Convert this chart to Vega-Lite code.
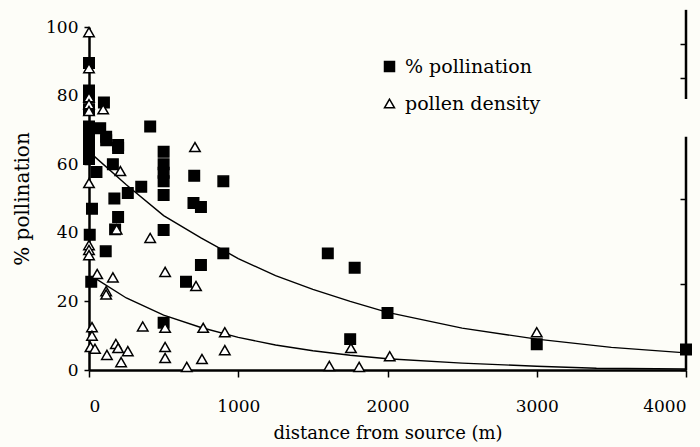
{
  "$schema": "https://vega.github.io/schema/vega-lite/v6.json",
  "width": 597,
  "height": 343,
  "autosize": {"type": "none"},
  "padding": {"left": 89, "top": 27, "right": 14, "bottom": 77},
  "background": "#fdfdf8",
  "config": {
    "view": {"stroke": null},
    "font": "DejaVu Serif",
    "axis": {
      "grid": false,
      "domainColor": "#000000",
      "domainWidth": 2.5,
      "tickColor": "#000000",
      "tickWidth": 1.5,
      "labelColor": "#000000",
      "titleColor": "#000000",
      "labelFont": "DejaVu Serif",
      "titleFont": "DejaVu Serif",
      "labelFontSize": 17,
      "titleFontSize": 18,
      "titleFontWeight": "normal"
    },
    "legend": {
      "labelFont": "DejaVu Serif"
    }
  },
  "datasets": {
    "points": [
      {"distance": 0, "value": 89.5, "series": "% pollination"},
      {"distance": 0, "value": 81.5, "series": "% pollination"},
      {"distance": 0, "value": 79.5, "series": "% pollination"},
      {"distance": 0, "value": 76, "series": "% pollination"},
      {"distance": 0, "value": 71, "series": "% pollination"},
      {"distance": 0, "value": 68, "series": "% pollination"},
      {"distance": 0, "value": 65.5, "series": "% pollination"},
      {"distance": 0, "value": 63, "series": "% pollination"},
      {"distance": 0, "value": 61.5, "series": "% pollination"},
      {"distance": 100, "value": 78, "series": "% pollination"},
      {"distance": 75, "value": 70.5, "series": "% pollination"},
      {"distance": 115, "value": 68, "series": "% pollination"},
      {"distance": 115, "value": 67, "series": "% pollination"},
      {"distance": 195, "value": 65.6, "series": "% pollination"},
      {"distance": 195, "value": 64.7, "series": "% pollination"},
      {"distance": 160, "value": 60, "series": "% pollination"},
      {"distance": 50, "value": 57.7, "series": "% pollination"},
      {"distance": 260, "value": 51.6, "series": "% pollination"},
      {"distance": 350, "value": 53.4, "series": "% pollination"},
      {"distance": 170, "value": 50, "series": "% pollination"},
      {"distance": 20, "value": 47, "series": "% pollination"},
      {"distance": 195, "value": 44.6, "series": "% pollination"},
      {"distance": 175, "value": 41, "series": "% pollination"},
      {"distance": 5, "value": 39.4, "series": "% pollination"},
      {"distance": 112, "value": 34.6, "series": "% pollination"},
      {"distance": 15, "value": 25.7, "series": "% pollination"},
      {"distance": 410, "value": 71, "series": "% pollination"},
      {"distance": 500, "value": 63.6, "series": "% pollination"},
      {"distance": 500, "value": 60, "series": "% pollination"},
      {"distance": 500, "value": 57.5, "series": "% pollination"},
      {"distance": 500, "value": 55, "series": "% pollination"},
      {"distance": 500, "value": 51, "series": "% pollination"},
      {"distance": 500, "value": 40.8, "series": "% pollination"},
      {"distance": 500, "value": 13.8, "series": "% pollination"},
      {"distance": 705, "value": 56.6, "series": "% pollination"},
      {"distance": 700, "value": 48.7, "series": "% pollination"},
      {"distance": 750, "value": 47.5, "series": "% pollination"},
      {"distance": 900, "value": 55, "series": "% pollination"},
      {"distance": 900, "value": 34, "series": "% pollination"},
      {"distance": 750, "value": 30.6, "series": "% pollination"},
      {"distance": 650, "value": 25.7, "series": "% pollination"},
      {"distance": 1600, "value": 34, "series": "% pollination"},
      {"distance": 1780, "value": 29.8, "series": "% pollination"},
      {"distance": 2000, "value": 16.6, "series": "% pollination"},
      {"distance": 1750, "value": 9, "series": "% pollination"},
      {"distance": 3000, "value": 7.5, "series": "% pollination"},
      {"distance": 4000, "value": 6, "series": "% pollination"},
      {"distance": 0, "value": 98.5, "series": "pollen density"},
      {"distance": 0, "value": 88, "series": "pollen density"},
      {"distance": 0, "value": 79.5, "series": "pollen density"},
      {"distance": 0, "value": 77.5, "series": "pollen density"},
      {"distance": 0, "value": 75.5, "series": "pollen density"},
      {"distance": 95, "value": 76, "series": "pollen density"},
      {"distance": 210, "value": 58, "series": "pollen density"},
      {"distance": 0, "value": 54.5, "series": "pollen density"},
      {"distance": 185, "value": 41, "series": "pollen density"},
      {"distance": 0, "value": 36.4, "series": "pollen density"},
      {"distance": 0, "value": 35, "series": "pollen density"},
      {"distance": 0, "value": 33.5, "series": "pollen density"},
      {"distance": 410, "value": 38.5, "series": "pollen density"},
      {"distance": 55, "value": 28, "series": "pollen density"},
      {"distance": 160, "value": 27, "series": "pollen density"},
      {"distance": 115, "value": 23, "series": "pollen density"},
      {"distance": 115, "value": 22, "series": "pollen density"},
      {"distance": 510, "value": 28.6, "series": "pollen density"},
      {"distance": 717, "value": 24.5, "series": "pollen density"},
      {"distance": 710, "value": 65, "series": "pollen density"},
      {"distance": 360, "value": 12.7, "series": "pollen density"},
      {"distance": 510, "value": 12.3, "series": "pollen density"},
      {"distance": 765, "value": 12.3, "series": "pollen density"},
      {"distance": 910, "value": 11, "series": "pollen density"},
      {"distance": 20, "value": 12.5, "series": "pollen density"},
      {"distance": 20, "value": 10, "series": "pollen density"},
      {"distance": 10, "value": 6.7, "series": "pollen density"},
      {"distance": 40, "value": 6.2, "series": "pollen density"},
      {"distance": 120, "value": 4.4, "series": "pollen density"},
      {"distance": 180, "value": 7.6, "series": "pollen density"},
      {"distance": 195, "value": 6.4, "series": "pollen density"},
      {"distance": 260, "value": 5.5, "series": "pollen density"},
      {"distance": 215, "value": 2.3, "series": "pollen density"},
      {"distance": 510, "value": 6.7, "series": "pollen density"},
      {"distance": 510, "value": 3.5, "series": "pollen density"},
      {"distance": 910, "value": 5.8, "series": "pollen density"},
      {"distance": 757, "value": 3.2, "series": "pollen density"},
      {"distance": 655, "value": 0.9, "series": "pollen density"},
      {"distance": 1755, "value": 6.4, "series": "pollen density"},
      {"distance": 2015, "value": 4, "series": "pollen density"},
      {"distance": 1610, "value": 1.2, "series": "pollen density"},
      {"distance": 1810, "value": 0.9, "series": "pollen density"},
      {"distance": 3000, "value": 11, "series": "pollen density"}
    ],
    "curves": [
      {"distance": 30, "value": 62.5, "curve": "pollination"},
      {"distance": 250, "value": 54, "curve": "pollination"},
      {"distance": 500, "value": 45, "curve": "pollination"},
      {"distance": 750, "value": 38.5, "curve": "pollination"},
      {"distance": 1000, "value": 32.5, "curve": "pollination"},
      {"distance": 1250, "value": 27.5, "curve": "pollination"},
      {"distance": 1500, "value": 23.5, "curve": "pollination"},
      {"distance": 1750, "value": 20, "curve": "pollination"},
      {"distance": 2000, "value": 16.8, "curve": "pollination"},
      {"distance": 2500, "value": 12.2, "curve": "pollination"},
      {"distance": 3000, "value": 9, "curve": "pollination"},
      {"distance": 3500, "value": 6.6, "curve": "pollination"},
      {"distance": 4000, "value": 5, "curve": "pollination"},
      {"distance": 50, "value": 26.5, "curve": "density"},
      {"distance": 250, "value": 21, "curve": "density"},
      {"distance": 500, "value": 16, "curve": "density"},
      {"distance": 750, "value": 12.4, "curve": "density"},
      {"distance": 1000, "value": 9.5, "curve": "density"},
      {"distance": 1250, "value": 7.3, "curve": "density"},
      {"distance": 1500, "value": 5.6, "curve": "density"},
      {"distance": 1750, "value": 4.3, "curve": "density"},
      {"distance": 2000, "value": 3.3, "curve": "density"},
      {"distance": 2500, "value": 2, "curve": "density"},
      {"distance": 3000, "value": 1.1, "curve": "density"},
      {"distance": 3400, "value": 0.5, "curve": "density"},
      {"distance": 4000, "value": 0.3, "curve": "density"}
    ],
    "rightaxis": [
      {"distance": 4000, "value": 0, "value2": 68},
      {"distance": 4000, "value": 79, "value2": 105}
    ]
  },
  "encoding": {
    "x": {
      "field": "distance",
      "type": "quantitative",
      "scale": {"domain": [0, 4000], "nice": false, "zero": false},
      "axis": {
        "values": [0, 1000, 2000, 3000, 4000],
        "format": "d",
        "title": "distance from source (m)",
        "tickSize": 7,
        "labelPadding": 21,
        "titlePadding": 10
      }
    },
    "y": {
      "field": "value",
      "type": "quantitative",
      "scale": {"domain": [0, 100], "nice": false},
      "axis": null
    }
  },
  "layer": [
    {
      "data": {"name": "curves"},
      "mark": {"type": "line", "color": "#000000", "strokeWidth": 1.4, "clip": false},
      "encoding": {
        "detail": {"field": "curve", "type": "nominal"},
        "y": {
          "field": "value",
          "type": "quantitative",
          "scale": {"domain": [0, 100], "nice": false},
          "axis": {
            "values": [0, 20, 40, 60, 80, 100],
            "title": "% pollination",
            "titleFontSize": 20,
            "tickSize": 5,
            "labelPadding": 6,
            "titlePadding": 13
          }
        }
      }
    },
    {
      "data": {"name": "rightaxis"},
      "mark": {"type": "rule", "color": "#000000", "strokeWidth": 2.5, "clip": false},
      "encoding": {
        "y": {
          "field": "value",
          "type": "quantitative",
          "scale": {"domain": [0, 100], "nice": false},
          "axis": {
            "orient": "right",
            "domain": false,
            "labels": false,
            "title": null,
            "values": [0, 25, 50, 85, 95],
            "tickSize": -6
          }
        },
        "y2": {"field": "value2"}
      }
    },
    {
      "data": {"name": "points"},
      "mark": {"type": "point", "color": "#000000", "stroke": "#000000", "strokeWidth": 1.5, "opacity": 1, "filled": false},
      "encoding": {
        "shape": {
          "field": "series",
          "type": "nominal",
          "scale": {"domain": ["% pollination", "pollen density"], "range": ["square", "triangle-up"]},
          "legend": {
            "orient": "none",
            "legendX": 291,
            "legendY": 30,
            "title": null,
            "labelFontSize": 19,
            "labelColor": "#000000",
            "symbolSize": 100,
            "rowPadding": 17,
            "labelOffset": 6,
            "padding": 0,
            "encode": {"symbols": {"update": {"stroke": {"value": "#000000"}, "strokeWidth": {"value": 1.5}, "opacity": {"value": 1}}}}
          }
        },
        "fill": {
          "field": "series",
          "type": "nominal",
          "scale": {"domain": ["% pollination", "pollen density"], "range": ["#000000", "#ffffff"]},
          "legend": {
            "orient": "none",
            "legendX": 291,
            "legendY": 30,
            "title": null,
            "labelFontSize": 19,
            "labelColor": "#000000",
            "symbolSize": 100,
            "rowPadding": 17,
            "labelOffset": 6,
            "padding": 0,
            "encode": {"symbols": {"update": {"stroke": {"value": "#000000"}, "strokeWidth": {"value": 1.5}, "opacity": {"value": 1}}}}
          }
        },
        "stroke": {"value": "#000000"},
        "size": {"value": 110}
      }
    }
  ],
  "resolve": {"axis": {"y": "independent"}}
}
